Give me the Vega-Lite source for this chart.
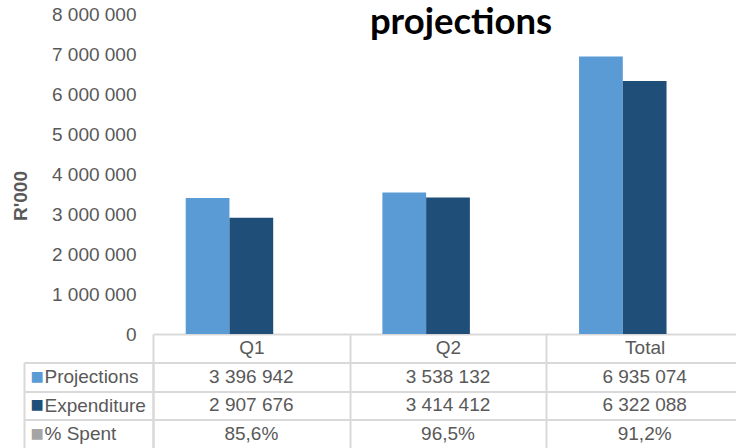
{
  "$schema": "https://vega.github.io/schema/vega-lite/v6.json",
  "background": "white",
  "padding": {"left": 11, "top": 4, "right": 0, "bottom": 0},
  "config": {
    "locale": {"number": {"decimal": ",", "thousands": " ", "grouping": [3], "currency": ["", ""]}},
    "view": {"stroke": null},
    "font": "Liberation Sans"
  },
  "data": {
    "values": [
      {"quarter": "Q1", "series": "Projections", "value": 3396942},
      {"quarter": "Q1", "series": "Expenditure", "value": 2907676},
      {"quarter": "Q1", "series": "% Spent", "value": 0.856},
      {"quarter": "Q2", "series": "Projections", "value": 3538132},
      {"quarter": "Q2", "series": "Expenditure", "value": 3414412},
      {"quarter": "Q2", "series": "% Spent", "value": 0.965},
      {"quarter": "Total", "series": "Projections", "value": 6935074},
      {"quarter": "Total", "series": "Expenditure", "value": 6322088},
      {"quarter": "Total", "series": "% Spent", "value": 0.912}
    ]
  },
  "bounds": "flush",
  "spacing": 28.5,
  "vconcat": [
    {
      "width": 590,
      "height": 320,
      "title": {
        "text": "projections",
        "font": "Lato",
        "fontSize": 36.5,
        "fontWeight": "bold",
        "color": "#000000",
        "anchor": "middle",
        "frame": "group",
        "dx": 13,
        "offset": -65,
        "baseline": "alphabetic"
      },
      "mark": {"type": "bar"},
      "encoding": {
        "x": {
          "field": "quarter",
          "type": "nominal",
          "sort": ["Q1", "Q2", "Total"],
          "scale": {"type": "band", "paddingInner": 0, "paddingOuter": 0},
          "axis": {
            "title": null,
            "labelAngle": 0,
            "labelFontSize": 19,
            "labelColor": "#595959",
            "labelFont": "Liberation Sans",
            "domainColor": "#D9D9D9",
            "domainWidth": 2,
            "tickColor": "#D9D9D9",
            "tickWidth": 2,
            "tickSize": 28.5,
            "tickBand": "extent",
            "labelPadding": -24
          }
        },
        "xOffset": {
          "field": "series",
          "type": "nominal",
          "sort": ["Projections", "Expenditure", "% Spent"],
          "scale": {"paddingInner": 0, "paddingOuter": 0.748}
        },
        "y": {
          "field": "value",
          "type": "quantitative",
          "scale": {"domain": [0, 8000000], "nice": false},
          "axis": {
            "title": "R'000",
            "values": [0, 1000000, 2000000, 3000000, 4000000, 5000000, 6000000, 7000000, 8000000],
            "format": ",.0f",
            "grid": false,
            "domain": false,
            "ticks": false,
            "labelPadding": 17,
            "labelFontSize": 19,
            "labelColor": "#595959",
            "labelFont": "Liberation Sans",
            "titleFont": "Liberation Sans",
            "titleFontSize": 19,
            "titleFontWeight": "bold",
            "titleColor": "#595959",
            "titlePadding": 21,
            "titleY": 181.5
          }
        },
        "color": {
          "field": "series",
          "type": "nominal",
          "scale": {"domain": ["Projections", "Expenditure", "% Spent"], "range": ["#5B9BD5", "#1F4E79", "#A5A5A5"]},
          "legend": null
        }
      }
    },
    {
      "width": 590,
      "height": 85.5,
      "layer": [
        {
          "transform": [{"filter": "datum.series !== '% Spent'"}],
          "mark": {"type": "text", "fontSize": 19, "color": "#595959", "font": "Liberation Sans"},
          "encoding": {
            "x": {
              "field": "quarter",
              "type": "nominal",
              "sort": ["Q1", "Q2", "Total"],
              "scale": {"type": "band", "paddingInner": 0, "paddingOuter": 0},
              "axis": {
                "title": null,
                "orient": "top",
                "labels": false,
                "ticks": false,
                "domain": false,
                "grid": true,
                "tickBand": "extent",
                "gridColor": "#D9D9D9",
                "gridWidth": 2
              }
            },
            "y": {
              "field": "series",
              "type": "nominal",
              "sort": ["Projections", "Expenditure", "% Spent"],
              "scale": {"type": "band", "domain": ["Projections", "Expenditure", "% Spent"], "paddingInner": 0, "paddingOuter": 0},
              "axis": {
                "title": null,
                "labelAlign": "left",
                "labelPadding": -20,
                "labelFontSize": 19,
                "labelColor": "#595959",
                "labelFont": "Liberation Sans",
                "tickSize": 129,
                "tickColor": "#D9D9D9",
                "tickWidth": 2,
                "tickBand": "extent",
                "domainColor": "#D9D9D9",
                "domainWidth": 2,
                "grid": true,
                "gridColor": "#D9D9D9",
                "gridWidth": 2
              }
            },
            "text": {"field": "value", "type": "quantitative", "format": ","}
          }
        },
        {
          "transform": [{"filter": "datum.series === '% Spent'"}],
          "mark": {"type": "text", "fontSize": 19, "color": "#595959", "font": "Liberation Sans"},
          "encoding": {
            "x": {
              "field": "quarter",
              "type": "nominal",
              "sort": ["Q1", "Q2", "Total"]
            },
            "y": {
              "field": "series",
              "type": "nominal",
              "sort": ["Projections", "Expenditure", "% Spent"],
              "axis": {
                "title": null,
                "orient": "left",
                "offset": 129,
                "labelExpr": "'■'",
                "labelFont": "DejaVu Sans",
                "labelFontSize": 14,
                "labelAlign": "left",
                "labelPadding": -6,
                "ticks": false,
                "grid": false,
                "domainColor": "#D9D9D9",
                "domainWidth": 2,
                "labelColor": {
                  "condition": [
                    {"test": "datum.value === 'Projections'", "value": "#5B9BD5"},
                    {"test": "datum.value === 'Expenditure'", "value": "#1F4E79"}
                  ],
                  "value": "#A5A5A5"
                }
              }
            },
            "text": {"field": "value", "type": "quantitative", "format": ".1%"}
          }
        }
      ],
      "resolve": {"axis": {"y": "independent"}}
    }
  ]
}
